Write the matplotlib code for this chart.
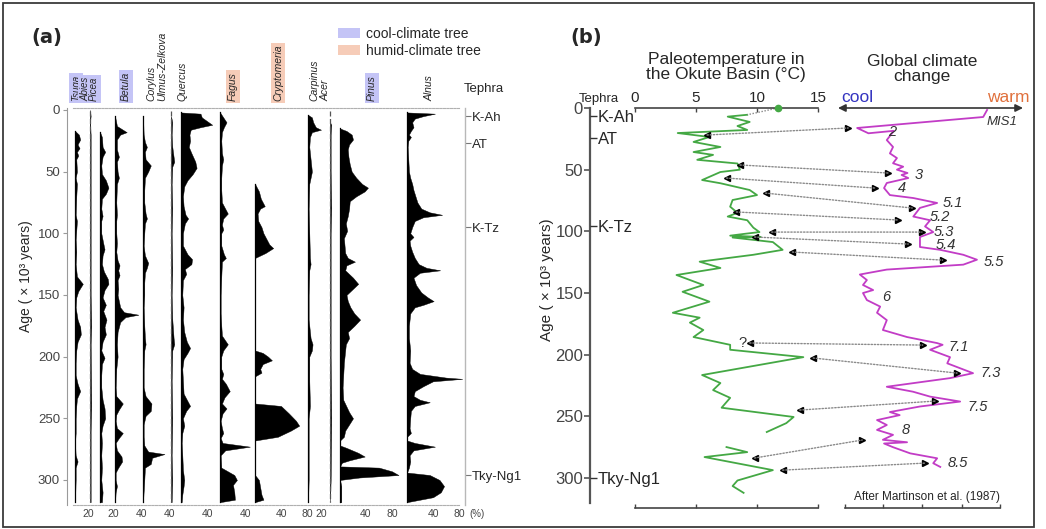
import numpy as np
import matplotlib
matplotlib.use("Agg")
import matplotlib.pyplot as plt
from matplotlib.patches import Rectangle, Patch, ConnectionPatch

plt.rcParams['font.family'] = ['Liberation Sans', 'DejaVu Sans']

W, H = 1046, 529
def fx(px): return px / W
def fy(py): return 1 - py / H

# ---------------- data: panel (a) pollen percentages (age ka, %) ----------------
TSUGA = [(17,0),(20,6),(24,8),(28,4),(31,7),(34,3),(37,5),(40,2),(50,3),(55,1),(60,3),(70,2),(85,1),(90,3),(105,1),(115,2),(125,1),(135,3),(141,12),(147,5),(152,2),(160,1),(170,4),(176,8),(182,9),(188,4),(195,2),(205,1),(215,1),(222,4),(228,8),(234,3),(240,2),(250,1),(262,1),(270,0),(280,1),(285,4),(290,1),(300,1),(318,0)]
ABIES = [(0,0),(5,1),(10,0),(20,1),(60,1),(100,1),(150,1),(175,2),(190,1),(240,2),(260,1),(318,1)]
PICEA = [(18,0),(22,3),(30,4),(34,8),(38,4),(45,2),(52,3),(57,9),(63,13),(68,9),(72,3),(80,2),(86,4),(90,2),(100,2),(108,5),(113,7),(118,4),(125,3),(131,6),(137,12),(141,13),(146,7),(152,4),(158,9),(163,5),(170,10),(176,7),(182,9),(188,4),(195,2),(201,7),(206,3),(215,2),(225,2),(235,4),(242,7),(250,8),(256,4),(262,2),(270,3),(280,2),(290,3),(300,2),(310,4),(318,3)]
BETULA = [(5,0),(13,3),(18,18),(20,8),(24,3),(32,3),(38,6),(42,3),(50,4),(55,6),(60,3),(75,2),(85,3),(90,2),(100,2),(108,3),(115,2),(122,4),(126,7),(130,5),(134,7),(138,4),(145,5),(150,4),(155,6),(160,8),(164,14),(166,36),(168,16),(172,8),(180,4),(190,3),(200,4),(210,2),(225,1),(232,2),(238,12),(243,6),(247,2),(252,1),(258,3),(262,12),(266,6),(270,1),(276,3),(281,10),(285,11),(290,5),(294,1),(300,1),(305,3),(310,1),(318,0)]
CORYLUS = [(5,0),(20,1),(26,3),(30,6),(34,3),(40,4),(45,12),(50,8),(55,3),(65,2),(75,2),(84,4),(88,6),(92,3),(100,2),(110,1),(118,3),(124,8),(128,6),(132,3),(140,2),(150,2),(160,1),(175,2),(185,3),(190,4),(195,2),(210,1),(225,1),(232,4),(238,13),(244,12),(248,4),(255,1),(265,1),(272,2),(277,8),(279,33),(282,14),(287,12),(290,3),(300,2),(318,0)]
ULMUS = [(5,0),(10,2),(20,1),(30,2),(38,4),(42,5),(46,2),(60,1),(80,2),(100,1),(130,2),(150,1),(170,2),(185,4),(190,5),(195,2),(220,1),(250,2),(280,1),(300,2),(318,1)]
QUERCUS = [(2,0),(3,30),(6,32),(9,40),(12,48),(14,30),(16,15),(20,13),(25,14),(30,12),(35,16),(42,22),(47,24),(52,18),(57,10),(62,5),(70,3),(78,4),(85,7),(88,11),(92,6),(100,3),(110,3),(117,10),(121,17),(125,16),(129,6),(133,8),(138,3),(150,2),(160,4),(170,3),(180,5),(188,9),(193,14),(197,10),(202,4),(210,2),(220,3),(230,4),(236,10),(240,14),(244,8),(250,3),(256,5),(262,2),(270,1),(280,2),(292,3),(300,5),(305,4),(312,2),(318,1)]
FAGUS = [(2,0),(6,5),(10,10),(14,6),(18,3),(25,2),(35,3),(40,5),(45,3),(55,2),(65,2),(75,3),(80,8),(84,12),(88,5),(93,3),(97,5),(100,2),(110,2),(117,6),(120,9),(123,3),(135,2),(150,1),(165,1),(175,2),(183,3),(190,12),(195,5),(200,2),(210,2),(214,5),(218,3),(222,9),(228,15),(233,7),(238,3),(242,10),(246,4),(252,1),(258,3),(262,5),(266,1),(270,4),(273,46),(276,8),(280,1),(290,2),(296,22),(300,26),(304,20),(310,22),(316,23),(318,0)]
CRYPTOMERIA = [(60,0),(66,6),(72,9),(78,15),(80,8),(84,4),(90,5),(95,10),(100,13),(105,18),(109,22),(112,28),(116,16),(120,0),(195,0),(197,12),(200,20),(203,26),(206,12),(210,8),(213,10),(216,0),(238,0),(240,40),(246,52),(252,63),(256,68),(260,55),(265,35),(268,0),(296,0),(300,6),(306,8),(312,10),(316,13),(318,0)]
CARPINUS = [(4,0),(6,6),(10,8),(14,12),(16,20),(18,6),(22,3),(30,2),(40,4),(45,5),(50,6),(55,4),(60,2),(80,1),(100,2),(120,3),(125,4),(130,2),(150,1),(170,1),(185,4),(190,7),(195,6),(200,2),(220,2),(240,3),(250,1),(280,1),(300,1),(318,0)]
ACER = [(10,0),(12,2),(20,1),(50,1),(80,2),(100,1),(150,1),(200,1),(250,2),(300,1),(318,0)]
PINUS = [(15,0),(17,10),(20,18),(24,20),(28,14),(32,12),(38,13),(44,15),(50,18),(55,25),(60,34),(63,43),(66,38),(70,25),(74,15),(80,14),(86,12),(92,9),(98,11),(104,6),(110,7),(116,8),(120,12),(123,23),(126,10),(130,8),(136,20),(141,28),(145,20),(150,10),(155,12),(160,16),(165,22),(170,31),(175,22),(180,12),(185,14),(190,9),(195,8),(205,6),(215,5),(225,4),(235,5),(245,14),(250,20),(255,14),(260,8),(265,6),(268,0),(272,0),(274,10),(278,28),(281,38),(284,15),(286,3),(289,0),(290,60),(293,80),(296,90),(298,30),(300,0),(305,2),(318,2)]
ALNUS = [(2,0),(3,43),(5,25),(7,12),(10,8),(14,10),(17,6),(20,3),(22,6),(25,2),(30,1),(40,2),(50,3),(55,5),(60,8),(65,10),(70,13),(75,16),(80,22),(83,35),(85,54),(87,25),(90,12),(95,8),(100,5),(103,10),(106,4),(110,5),(115,8),(120,12),(125,18),(128,30),(130,51),(132,20),(136,10),(142,14),(148,22),(152,32),(155,41),(158,25),(160,12),(165,5),(175,3),(185,3),(195,5),(205,4),(210,8),(214,20),(217,60),(218,85),(220,40),(224,25),(228,12),(232,10),(235,20),(237,35),(240,12),(244,6),(250,5),(258,4),(262,6),(265,0),(268,0),(270,12),(273,43),(276,10),(280,4),(285,5),(290,3),(294,0),(296,35),(300,50),(305,57),(310,52),(314,40),(318,0)]

TAXA = ['Tsuga', 'Abies', 'Picea', 'Betula', 'Corylus', 'Ulmus-Zelkova', 'Quercus',
        'Fagus', 'Cryptomeria', 'Carpinus', 'Acer', 'Pinus', 'Alnus']
TAXA_DATA = [TSUGA, ABIES, PICEA, BETULA, CORYLUS, ULMUS, QUERCUS, FAGUS,
             CRYPTOMERIA, CARPINUS, ACER, PINUS, ALNUS]
TAXA_GROUP = ['cool', 'cool', 'cool', 'cool', None, None, None, 'humid', 'humid',
              None, None, 'cool', None]
TAXA_TICKS = [[20], [], [20], [40], [40], [], [40], [40], [40, 80], [20], [], [40, 80], [40, 80]]

TEPHRA = ['K-Ah', 'AT', 'K-Tz', 'Tky-Ng1']
TEPHRA_AGE_A = [5, 27, 95, 296]
TEPHRA_AGE_B = [6.5, 24, 96, 300]
AGE_TICKS = [0, 50, 100, 150, 200, 250, 300]

# ---------------- data: panel (b) ----------------
TEMP_AGE = [5.5, 7, 11.3, 14.6, 17.8, 20.3, 23.5, 27.5, 31.6, 35.7, 38, 42, 45, 50, 51.9, 58.4, 61, 66.5, 70.6,
            74.6, 80, 85, 88, 91, 97, 100.6, 102, 103.5, 104.5, 105, 108.7, 115, 119, 124.6, 129.7, 135.4,
            143.5, 149, 157, 166, 170, 174, 180, 185.7, 192, 196, 202, 216.5, 223, 228.7, 235, 243, 250.5,
            255.5, 262.7, np.nan, 274.9, 279, 283, 293.6, 302, 306.5, 312]
TEMP_C = [9.2, 7.6, 9.4, 8.4, 9.2, 3.5, 6.1, 4.8, 7.0, 4.8, 6.4, 5.1, 8.4, 8.6, 7.0, 5.5, 7.0, 9.4, 10.0,
          8.0, 7.8, 8.4, 7.6, 9.2, 9.7, 10.2, 9.0, 7.8, 10.3, 8.0, 11.3, 12.1, 9.7, 5.3, 7.0, 3.4,
          5.6, 3.9, 6.1, 3.1, 5.3, 4.5, 5.6, 4.8, 7.8, 7.8, 13.8, 5.5, 7.0, 6.4, 7.8, 7.1, 13.0,
          12.4, 10.8, np.nan, 7.5, 9.2, 5.7, 11.3, 8.4, 8.0, 8.9]
MODERN_TEMP = 11.7

GLOBAL_AGE = [1.6, 7.3, 16.2, 20.5, 18.5, 26, 31.6, 36.8, 40.6, 44.8, 47.6, 50, 52.7, 54.3, 56.8, 60.8, 64.9,
              70.6, 73, 77, 81, 88, 91, 96, 100.6, 104.6, 112.7, 115, 119, 123, 127, 131, 135, 139.5,
              143.5, 147.6, 150, 155.7, 161, 166, 172, 180, 185.7, 190.6, 192, 196, 202, 207, 215, 219,
              226, 230, 234, 238, 242, 246.5, 249, 253, 257, 261, 265, 269, 271, 272, 275, 280, 284, 288, 291]
GLOBAL_IDX = [3.64, 3.54, 0.31, 0.6, 1.25, 1.07, 1.23, 1.15, 1.33, 1.23, 1.49, 1.33, 1.6, 1.45, 1.62, 1.07, 1.0,
              1.15, 1.75, 2.36, 1.92, 1.75, 2.18, 2.05, 2.26, 1.92, 1.92, 2.44, 3.03, 3.38, 3.03, 1.07, 0.38, 0.56,
              0.46, 0.72, 0.46, 0.56, 0.9, 0.82, 1.07, 0.97, 1.59, 2.36, 2.5, 2.18, 2.69, 2.62, 3.28, 2.69,
              1.07, 1.74, 2.18, 2.95, 1.92, 1.15, 1.4, 0.82, 1.07, 0.82, 1.23, 0.97, 1.59, 1.0, 1.23, 1.67, 2.36, 2.26, 2.44]

MIS_LABELS = ['MIS1', '2', '3', '4', '5.1', '5.2', '5.3', '5.4', '5.5', '6', '7.1', '7.3', '7.5', '8', '8.5']
MIS_IDX = [3.64, 1.10, 1.79, 1.36, 2.51, 2.18, 2.26, 2.31, 3.54, 0.95, 2.64, 3.46, 3.13, 1.46, 2.64]
MIS_AGE = [11.4, 19.5, 54.3, 64.9, 77.0, 88.4, 100.6, 111.1, 124.9, 153.3, 193.8, 214.9, 242.4, 261.1, 287.9]

# correlation arrows: (temperature, age) on the Okute curve -> (index, age) on the global curve
LINK_T = [5.9, 8.6, 7.5, 10.7, 8.3, 11.2, 9.8, 12.9, 9.4, 14.6, 13.5, 9.8, 12.1]
LINK_TA = [21.9, 46.2, 56.8, 69.0, 84.3, 100.6, 104.6, 116.8, 190.5, 202.7, 244.9, 283.8, 293.6]
LINK_G = [0.08, 1.10, 0.77, 1.72, 1.36, 1.97, 1.62, 2.50, 1.99, 2.87, 2.31, 0.44, 2.05]
LINK_GA = [16.2, 52.7, 64.9, 81.1, 90.8, 100.6, 110.3, 123.3, 192.2, 214.9, 237.6, 269.2, 287.9]

# ---------------- style ----------------
TXT = '#262626'
GRAY = '#9a9a9a'
COOL = '#c4c4f6'
HUMID = '#f6ccb8'
GREEN = '#44a844'
MAGENTA = '#c23cc6'

fig = plt.figure(figsize=(W / 100, H / 100), dpi=100)
fig.patch.set_facecolor('white')
fig.add_artist(Rectangle((fx(3), fy(527)), fx(1034) - fx(3), fy(3) - fy(527),
                         transform=fig.transFigure, fill=False, edgecolor='#3a3a3a', lw=1.3))

# =============== panel (a) ===============
PX_PER_PCT = 0.65
A_LEFT, A_RIGHT, A_TOP, A_BOT = 67, 465, 108, 505
axA = fig.add_axes([fx(A_LEFT), fy(A_BOT), (A_RIGHT - A_LEFT) / W, (A_BOT - A_TOP) / H])
axA.set_xlim(0, A_RIGHT - A_LEFT)
axA.set_ylim(320.3, -1.6)
BASES = [8, 23, 33, 48, 76, 104, 114, 153, 188, 241, 263, 273, 340]
LABEL_X = [76, 85, 94, 126, 151, 162, 182, 233, 278, 314, 326, 372, 430]
THIN = {'Abies', 'Ulmus-Zelkova', 'Acer'}

for name, data, base in zip(TAXA, TAXA_DATA, BASES):
    ages = np.array([d[0] for d in data], float)
    pct = np.array([d[1] for d in data], float)
    if name in THIN:
        axA.plot([base, base], [1, 318], color='#555', lw=0.9, ls=(0, (4, 2)))
    else:
        axA.plot([base, base], [ages[0], 318], color='k', lw=0.9)
    axA.fill_betweenx(ages, base, base + pct * PX_PER_PCT, color='black', lw=0.3)

for s in ['top', 'bottom']:
    axA.spines[s].set_color('#b0b0b0')
    axA.spines[s].set_linestyle((0, (2, 1.2)))
    axA.spines[s].set_bounds(6, 392)
axA.spines['left'].set_color(GRAY)
axA.spines['right'].set_visible(False)
axA.set_xticks([])
axA.set_yticks(AGE_TICKS)
axA.tick_params(axis='y', direction='out', length=3, color=GRAY, labelsize=9.5,
                labelcolor='#444', pad=2)

# bottom percent tick labels
xt = axA.get_xaxis_transform()
for name, base, ticks in zip(TAXA, BASES, TAXA_TICKS):
    for t in ticks:
        axA.text(base + t * PX_PER_PCT, -0.01, str(t), transform=xt,
                 ha='center', va='top', fontsize=7.5, color='#444')
axA.text(A_RIGHT - A_LEFT + 12, -0.01, '(%)', transform=xt,
         ha='center', va='top', fontsize=7, color='#444')

# tephra axis (right)
axT = axA.twinx()
axT.set_ylim(320.3, -1.6)
for s in ['top', 'bottom', 'left']:
    axT.spines[s].set_visible(False)
axT.spines['right'].set_color('#b8b8b8')
axT.spines['right'].set_linewidth(1.0)
axT.set_yticks(TEPHRA_AGE_A)
axT.set_yticklabels(TEPHRA)
axT.tick_params(axis='y', direction='out', length=4, color='#777', labelsize=9.5,
                labelcolor=TXT, pad=1)
fig.text(fx(464), fy(89), 'Tephra', fontsize=9.5, color=TXT, va='center', ha='left')

# taxon labels
for name, lx, grp in zip(TAXA, LABEL_X, TAXA_GROUP):
    kw = {}
    if grp is not None:
        kw['bbox'] = dict(facecolor=COOL if grp == 'cool' else HUMID, edgecolor='none', pad=1.2)
    fs = 7 if name in ('Tsuga', 'Abies', 'Picea') else 7.5
    fig.text(fx(lx), fy(101), name, rotation=90, ha='center', va='bottom', fontsize=fs,
             style='italic', color=TXT, **kw)

fig.text(fx(31), fy(37), '(a)', fontsize=14, color=TXT, va='center', ha='left',
         family='DejaVu Sans', weight='bold')
fig.text(fx(26), fy(276), 'Age ( \u00d7 10\u00b3 years)', rotation=90, fontsize=10,
         color=TXT, ha='center', va='center')

fig.legend(handles=[Patch(facecolor=COOL, edgecolor='none'), Patch(facecolor=HUMID, edgecolor='none')],
           labels=['cool-climate tree', 'humid-climate tree'], loc='upper left',
           bbox_to_anchor=(fx(331), fy(20)), frameon=False, fontsize=10, handlelength=1.6,
           handleheight=0.8, labelspacing=0.2, handletextpad=0.4, borderpad=0, labelcolor=TXT)

# =============== panel (b) ===============
B_TOP, B_BOT = 108, 508
B_YLIM = (324.3, 0)

# age axis
axAge = fig.add_axes([fx(590), fy(B_BOT), (635 - 590) / W, (B_BOT - B_TOP) / H])
axAge.set_ylim(*B_YLIM)
axAge.set_xlim(0, 1)
for s in ['top', 'bottom', 'right']:
    axAge.spines[s].set_visible(False)
axAge.spines['left'].set_color('#555')
axAge.spines['left'].set_linewidth(1.6)
axAge.spines['left'].set_bounds(0, 320)
axAge.set_xticks([])
axAge.set_yticks(AGE_TICKS)
axAge.tick_params(axis='y', direction='out', length=4, width=1.2, color='#555',
                  labelsize=12, labelcolor='#444', pad=1)
axAge.patch.set_alpha(0)

axTB = axAge.twinx()
axTB.set_ylim(*B_YLIM)
for s in ['top', 'bottom', 'left', 'right']:
    axTB.spines[s].set_visible(False)
axTB.spines['right'].set_position(('axes', 0))
axTB.set_yticks(TEPHRA_AGE_B)
axTB.set_yticklabels(TEPHRA)
axTB.tick_params(axis='y', direction='out', length=5, width=1.0, color='#333',
                 labelsize=12, labelcolor=TXT, pad=0.5)
fig.text(fx(579), fy(99), 'Tephra', fontsize=9.5, color=TXT, va='center', ha='left')

fig.text(fx(547), fy(280), 'Age ( \u00d7 10\u00b3 years)', rotation=90, fontsize=11,
         color=TXT, ha='center', va='center')
fig.text(fx(570), fy(37), '(b)', fontsize=14, color=TXT, va='center', ha='left',
         family='DejaVu Sans', weight='bold')

# temperature axes
axTemp = fig.add_axes([fx(635), fy(B_BOT), (818 - 635) / W, (B_BOT - B_TOP) / H])
axTemp.set_xlim(0, 15)
axTemp.set_ylim(*B_YLIM)
axTemp.patch.set_alpha(0)
for s in ['left', 'right']:
    axTemp.spines[s].set_visible(False)
for s in ['top', 'bottom']:
    axTemp.spines[s].set_color('#444')
    axTemp.spines[s].set_linewidth(1.2)
axTemp.set_yticks([])
axTemp.set_xticks([0, 5, 10, 15])
axTemp.xaxis.set_ticks_position('both')
axTemp.tick_params(axis='x', direction='in', length=3, width=1.0, color='#444',
                   labeltop=True, labelbottom=False, labelsize=11, labelcolor=TXT, pad=2)
axTemp.plot(TEMP_C, TEMP_AGE, color=GREEN, lw=1.3, clip_on=False)
axTemp.plot([MODERN_TEMP, TEMP_C[0]], [0, TEMP_AGE[0]], color='#888', lw=1.0, ls=(0, (1, 1.2)),
            clip_on=False)
axTemp.plot([MODERN_TEMP], [0], 'o', color=GREEN, ms=4.5, clip_on=False, zorder=5)
fig.text(fx(726), fy(67), 'Paleotemperature in\nthe Okute Basin (\u00b0C)', fontsize=12.5,
         color=TXT, ha='center', va='center', linespacing=1.0)

# global axes
axG = fig.add_axes([fx(838), fy(B_BOT), (1023 - 838) / W, (B_BOT - B_TOP) / H])
axG.set_xlim(-0.18, 4.56)
axG.set_ylim(*B_YLIM)
axG.patch.set_alpha(0)
for s in ['left', 'right', 'top']:
    axG.spines[s].set_visible(False)
axG.spines['bottom'].set_color('#444')
axG.spines['bottom'].set_linewidth(1.2)
axG.spines['bottom'].set_bounds(0, 3.97)
axG.set_yticks([])
axG.set_xticks([0, 0.97, 1.97, 3.0, 3.97])
axG.tick_params(axis='x', direction='in', length=3, width=1.0, color='#444', labelbottom=False)
axG.annotate('', xy=(0, 1), xytext=(1, 1), xycoords='axes fraction', textcoords='axes fraction',
             arrowprops=dict(arrowstyle='<|-|>', color='#333', lw=1.2, mutation_scale=11,
                             shrinkA=0, shrinkB=0))
axG.plot(GLOBAL_IDX, GLOBAL_AGE, color=MAGENTA, lw=1.3, clip_on=False)
for lab, v, a in zip(MIS_LABELS, MIS_IDX, MIS_AGE):
    axG.text(v, a, lab, fontsize=10.5 if lab != 'MIS1' else 9.5, style='italic', color='#333',
             ha='left', va='center')
fig.text(fx(922), fy(69), 'Global climate\nchange', fontsize=12.5, color=TXT, ha='center',
         va='center', linespacing=1.0)
fig.text(fx(841), fy(97), 'cool', fontsize=12.5, color='#3434c0', ha='left', va='center')
fig.text(fx(1030), fy(97), 'warm', fontsize=12.5, color='#e0703c', ha='right', va='center')
fig.text(fx(927), fy(497), 'After Martinson et al. (1987)', fontsize=8.5, color=TXT,
         ha='center', va='center')

# correlation links
for t, ta, g, ga in zip(LINK_T, LINK_TA, LINK_G, LINK_GA):
    con = ConnectionPatch(xyA=(t, ta), coordsA=axTemp.transData, xyB=(g, ga), coordsB=axG.transData,
                          color='#8a8a8a', lw=1.0, linestyle=(0, (1, 1.3)))
    fig.add_artist(con)
    axTemp.plot([t], [ta], marker='<', color='k', ms=4, clip_on=False, zorder=6)
    axG.plot([g], [ga], marker='>', color='k', ms=4, clip_on=False, zorder=6)
axTemp.text(8.8, 190.5, '?', fontsize=10.5, color='#333', ha='center', va='center')

fig.savefig('out.png', dpi=100)
